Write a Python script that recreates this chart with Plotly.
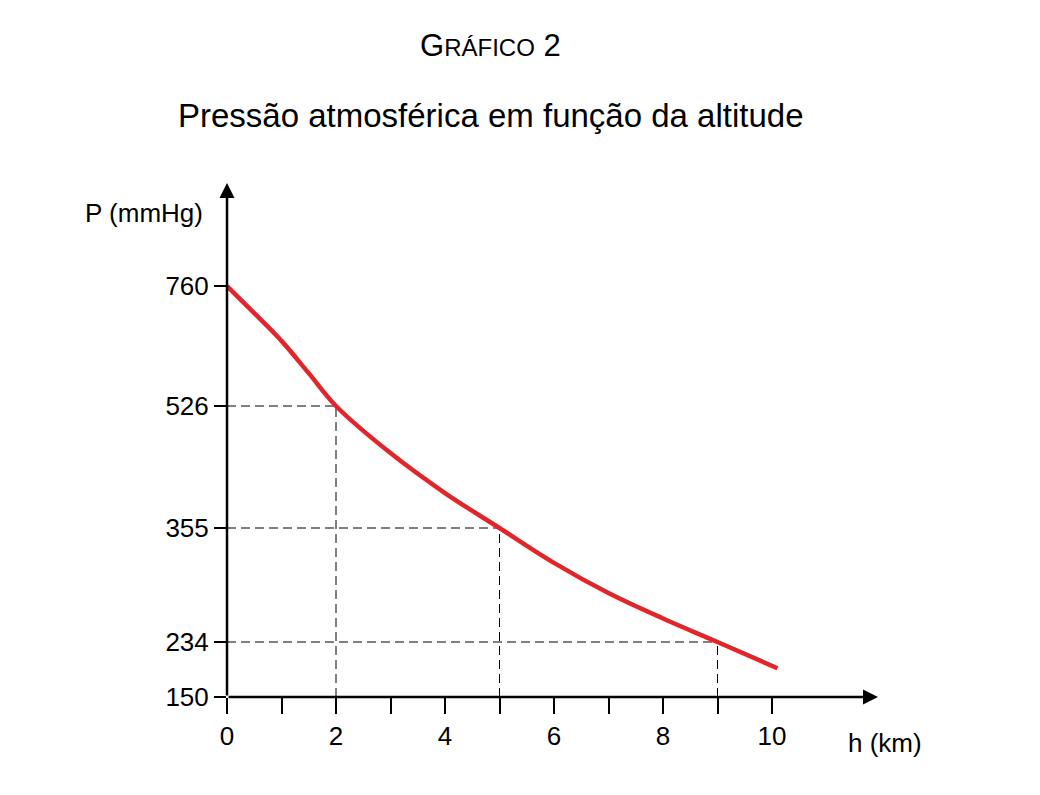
import numpy as np
import plotly.graph_objects as go

# pressure readings (mmHg) vs altitude (km)
h = [0, 0.5, 1, 1.5, 2, 3, 4, 5, 6, 7, 8, 9, 10.1]
p = [760, 707, 653, 590, 526, 460, 404, 355, 318, 286, 259, 234, 194]

# marked points (dashed guides)
mark_h = [2, 5, 9]
mark_p = [526, 355, 234]

# y axis is drawn schematically (not to scale): labels and their spacing
y_labels = [150, 234, 355, 526, 760]
y_spacing = [0, 55, 169, 291, 411]

x_ticks = list(range(0, 11))
x_labels = ["0", "", "2", "", "4", "", "6", "", "8", "", "10"]


def ypos(v):
    return np.interp(v, y_labels, y_spacing)


font = dict(family="Liberation Sans, Arial, sans-serif", size=26, color="black")

fig = go.Figure()

for mh, mp in zip(mark_h, mark_p):
    fig.add_trace(go.Scatter(x=[0, mh], y=[ypos(mp)] * 2, mode="lines",
                             line=dict(color="black", width=1, dash="9px,5px"),
                             hoverinfo="skip"))
    fig.add_trace(go.Scatter(x=[mh, mh], y=[0, ypos(mp)], mode="lines",
                             line=dict(color="black", width=1, dash="9px,5px"),
                             hoverinfo="skip"))

fig.add_trace(go.Scatter(x=h, y=ypos(p), mode="lines",
                         line=dict(color="#e1262b", width=4.5, shape="spline")))

xmax = (870 - 219) / 54.5
fig.update_layout(
    width=1040, height=795, showlegend=False,
    plot_bgcolor="white", paper_bgcolor="white", font=font,
    margin=dict(l=219, r=170, t=175, b=106, autoexpand=False),
    xaxis=dict(range=[0, xmax], tickvals=x_ticks, ticktext=x_labels,
               showgrid=False, zeroline=False, showline=False,
               ticks="outside", ticklen=16, tickwidth=2, tickcolor="black",
               tickfont=font),
    yaxis=dict(range=[0, 514], tickvals=y_spacing,
               ticktext=[str(v) for v in y_labels],
               showgrid=False, zeroline=False, showline=False,
               ticks="outside", ticklen=12, tickwidth=1.5, tickcolor="black",
               tickfont=font),
)

# axes with arrow heads
fig.add_annotation(x=xmax, y=0, ax=0, ay=0, xref="x", yref="y", axref="x", ayref="y",
                   showarrow=True, arrowhead=2, arrowsize=1.2, arrowwidth=2.5, arrowcolor="black", text="")
fig.add_annotation(x=0, y=514, ax=0, ay=0, xref="x", yref="y", axref="x", ayref="y",
                   showarrow=True, arrowhead=2, arrowsize=1.2, arrowwidth=2.5, arrowcolor="black", text="")

W, H = 651, 514
fig.add_annotation(text="P (mmHg)", x=(197 - 219) / W, y=(689 - 205) / H,
                   xref="paper", yref="paper", xanchor="right", yanchor="middle",
                   showarrow=False, font=font)
fig.add_annotation(text="h (km)", x=(877 - 219) / W, y=-(735 - 689) / H,
                   xref="paper", yref="paper", xanchor="center", yanchor="middle",
                   showarrow=False, font=font)

fig.add_annotation(text="G<span style='font-size:24px'>RÁFICO</span> 2",
                   x=(482 - 219) / W, y=(689 - 37) / H, xref="paper", yref="paper",
                   showarrow=False, font=dict(family=font["family"], size=31, color="black"),
                   yanchor="middle")
fig.add_annotation(text="Pressão atmosférica em função da altitude",
                   x=(483 - 219) / W, y=(689 - 107) / H, xref="paper", yref="paper",
                   showarrow=False, font=dict(family=font["family"], size=33, color="black"),
                   yanchor="middle")

fig.write_html("out.html")
